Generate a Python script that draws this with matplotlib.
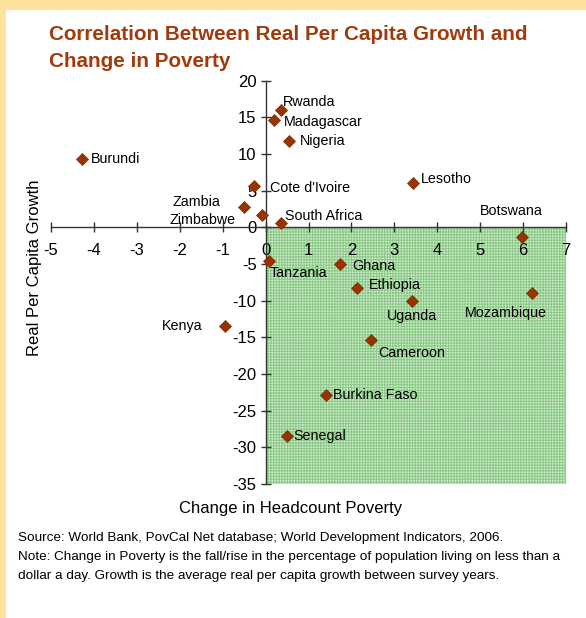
import matplotlib
matplotlib.use("Agg")
import matplotlib.pyplot as plt
from matplotlib.patches import Rectangle

# change in headcount poverty (x) vs real per capita growth (y)
countries = ["Burundi", "Rwanda", "Madagascar", "Nigeria", "Cote d'Ivoire", "Zambia",
             "Zimbabwe", "South Africa", "Tanzania", "Lesotho", "Botswana", "Ghana",
             "Ethiopia", "Uganda", "Mozambique", "Kenya", "Cameroon", "Burkina Faso",
             "Senegal"]
poverty_change = [-4.28, 0.37, 0.19, 0.54, -0.26, -0.51, -0.08, 0.37, 0.08, 3.43, 5.97,
                  1.73, 2.14, 3.42, 6.21, -0.95, 2.45, 1.41, 0.50]
growth = [9.3, 16.0, 14.6, 11.8, 5.7, 2.8, 1.7, 0.6, -4.6, 6.0, -1.3, -5.0, -8.3, -10.1,
          -8.9, -13.5, -15.4, -22.8, -28.5]

xticks = list(range(-5, 8))
yticks = list(range(-35, 25, 5))

# label placement in pixels relative to the marker: (dx, dy, ha)
label_pos = {
    "Burundi": (9, 0, "left"), "Rwanda": (1, 8, "left"), "Madagascar": (10, -2, "left"),
    "Nigeria": (11, 0, "left"), "Cote d'Ivoire": (16, -2, "left"), "Zambia": (-23, 5, "right"),
    "Zimbabwe": (-27, -5, "right"), "South Africa": (4, 7, "left"), "Tanzania": (1, -12, "left"),
    "Lesotho": (8, 4, "left"), "Botswana": (-10, 26, "center"), "Ghana": (12, -2, "left"),
    "Ethiopia": (11, 3, "left"), "Uganda": (0, -15, "center"), "Mozambique": (-26, -20, "center"),
    "Kenya": (-22, 0, "right"), "Cameroon": (8, -13, "left"), "Burkina Faso": (7, 0, "left"),
    "Senegal": (6, 0, "left"),
}

plt.rcParams["axes.unicode_minus"] = False
plt.rcParams["hatch.linewidth"] = 0.8

W, H = 586, 618
fig = plt.figure(figsize=(W / 100, H / 100), dpi=100)
fig.patch.set_facecolor("white")
fig.patches.append(Rectangle((0, 1 - 10 / H), 1, 10 / H, transform=fig.transFigure,
                             facecolor="#fde29b", edgecolor="none", zorder=0))
fig.patches.append(Rectangle((0, 0), 6 / W, 1, transform=fig.transFigure,
                             facecolor="#fde29b", edgecolor="none", zorder=0))

ax = fig.add_axes([51 / W, 1 - 484 / H, 515 / W, 403.3 / H])
ax.set_xlim(-5, 7)
ax.set_ylim(-35, 20)
ax.patch.set_alpha(0)

ax.add_patch(Rectangle((0, -35), 7, 35, facecolor="#d6edd3", edgecolor="#8bca87",
                       hatch="++++++", linewidth=0, zorder=0))

for side in ["top", "right"]:
    ax.spines[side].set_visible(False)
ax.spines["left"].set_position(("data", 0))
ax.spines["bottom"].set_position(("data", 0))
for side in ["left", "bottom"]:
    ax.spines[side].set_color("#333333")
    ax.spines[side].set_linewidth(1)
    ax.spines[side].set_zorder(3)

ax.set_xticks(xticks)
ax.set_yticks(yticks)
ax.tick_params(direction="inout", length=7, width=1, color="#333333",
               labelsize=12, labelcolor="black")
ax.tick_params(axis="x", pad=8)
ax.tick_params(axis="y", pad=3)
for lab in ax.get_xticklabels() + ax.get_yticklabels():
    lab.set_fontfamily("Liberation Sans")

ax.plot(poverty_change, growth, linestyle="none", marker="D", markersize=6.5,
        color="#993300", markeredgecolor="#7a2800", markeredgewidth=0.5, zorder=4)

for name, x, y in zip(countries, poverty_change, growth):
    dx, dy, ha = label_pos[name]
    ax.annotate(name, (x, y), xytext=(dx, dy), textcoords="offset pixels",
                ha=ha, va="center", fontsize=10.3, family="Liberation Sans", zorder=5)

fig.text(291 / W, 1 - 513 / H, "Change in Headcount Poverty", ha="center", va="baseline",
         fontsize=12, family="Liberation Sans")
fig.text(35 / W, 1 - 268 / H, "Real Per Capita Growth", ha="center", va="center",
         rotation=90, fontsize=12, family="Liberation Sans")

title_color = "#a33a0c"
fig.text(49 / W, 1 - 40 / H, "Correlation Between Real Per Capita Growth and",
         ha="left", va="baseline", fontsize=14.9, fontweight="bold",
         color=title_color, family="Liberation Sans")
fig.text(49 / W, 1 - 67 / H, "Change in Poverty", ha="left", va="baseline",
         fontsize=14.9, fontweight="bold", color=title_color, family="Liberation Sans")

notes = ["Source: World Bank, PovCal Net database; World Development Indicators, 2006.",
         "Note: Change in Poverty is the fall/rise in the percentage of population living on less than a",
         "dollar a day. Growth is the average real per capita growth between survey years."]
for i, line in enumerate(notes):
    fig.text(18 / W, 1 - (541 + 19 * i) / H, line, ha="left", va="baseline",
             fontsize=9.7, family="Liberation Sans")

fig.savefig("out.png", dpi=100, facecolor=fig.get_facecolor())
